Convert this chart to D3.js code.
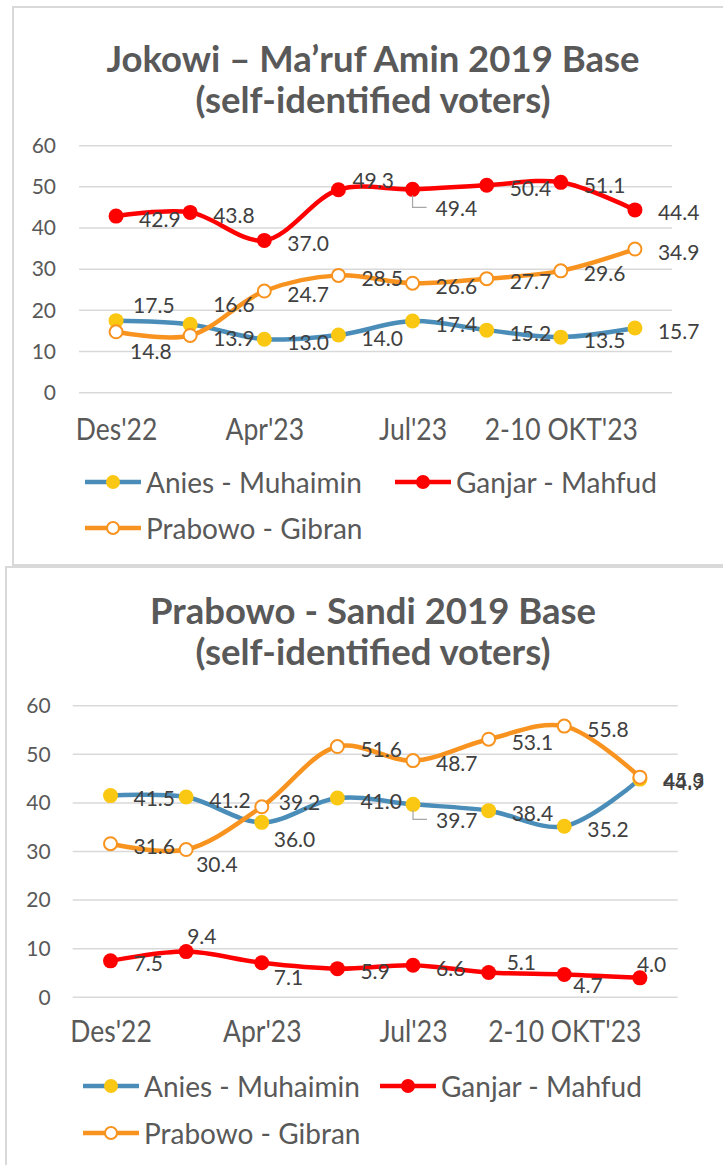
<!DOCTYPE html>
<html><head><meta charset="utf-8">
<script src="https://cdn.jsdelivr.net/npm/d3@7"></script>
<style>body{margin:0;background:#fff}svg{display:block}</style>
</head><body>
<svg id="c" width="723" height="1165"></svg>
<script>
// ---------- data ----------
const categories = ["Des'22","Feb'23","Apr'23","Jun'23","Jul'23","Agu'23","2-10 OKT'23","Nov'23"];
const shownTicks = ["Des'22","Apr'23","Jul'23","2-10 OKT'23"];
const yTicks = [0,10,20,30,40,50,60];
const seriesNames = ["Anies - Muhaimin","Ganjar - Mahfud","Prabowo - Gibran"];

const jokowiAnies    = [17.5,16.6,13.0,14.0,17.4,15.2,13.5,15.7];
const jokowiGanjar   = [42.9,43.8,37.0,49.3,49.4,50.4,51.1,44.4];
const jokowiPrabowo  = [14.8,13.9,24.7,28.5,26.6,27.7,29.6,34.9];

const prabowoAnies   = [41.5,41.2,36.0,41.0,39.7,38.4,35.2,44.9];
const prabowoGanjar  = [7.5,9.4,7.1,5.9,6.6,5.1,4.7,4.0];
const prabowoPrabowo = [31.6,30.4,39.2,51.6,48.7,53.1,55.8,45.3];

// ---------- styles ----------
const lineColors = ["#4a8db8","#ff0000","#f7931e"];
const markerFill = ["#fac712","#ff0000","#ffffff"];
const markerStroke = ["#fac712","#ff0000","#f7931e"];
const FONT = "'Century Gothic','Lato','Open Sans',sans-serif";

const svg = d3.select("#c");

function drawChart(cfg){
  const g = svg.append("g");
  g.append("rect").attr("x",cfg.card[0]).attr("y",cfg.card[1])
    .attr("width",cfg.card[2]).attr("height",cfg.card[3])
    .attr("fill","#fff").attr("stroke","#d9d9d9").attr("stroke-width",2);

  cfg.title.forEach((t,i)=>{
    g.append("text").attr("x",373).attr("y",cfg.titleY[i])
      .attr("text-anchor","middle").attr("font-family",FONT)
      .attr("font-weight","bold").attr("font-size",36.5).attr("fill","#595959")
      .text(t);
  });

  const x = d3.scalePoint().domain(categories).range(cfg.xr).padding(0.5);
  const y = d3.scaleLinear().domain([0,60]).range(cfg.yr);

  g.append("g").selectAll("line").data(yTicks).join("line")
    .attr("x1",cfg.xr[0]).attr("x2",cfg.xr[1])
    .attr("y1",d=>y(d)).attr("y2",d=>y(d))
    .attr("stroke","#d9d9d9").attr("stroke-width",1.5);

  const ya = d3.axisLeft(y).tickValues(yTicks).tickSize(0).tickPadding(cfg.yPad);
  const yg = g.append("g").attr("transform",`translate(${cfg.xr[0]},0)`).call(ya);
  yg.select(".domain").remove();
  yg.selectAll("text").attr("font-family",FONT).attr("font-size",21).attr("fill","#595959");

  const xa = d3.axisBottom(x).tickValues(shownTicks).tickSize(0).tickPadding(0);
  const xg = g.append("g").attr("transform",`translate(0,${cfg.xLabelY})`).call(xa);
  xg.select(".domain").remove();
  xg.selectAll("text").attr("font-family",FONT).attr("font-size",26.5).attr("fill","#595959")
    .attr("y",0).attr("dy",0).attr("transform","scale(1,1.15)");

  const line = d3.line().x((d,i)=>x(categories[i])).y(d=>y(d)).curve(d3.curveCatmullRom.alpha(0.5));

  cfg.series.forEach((vals,s)=>{
    g.append("path").attr("d",line(vals)).attr("fill","none")
      .attr("stroke",lineColors[s]).attr("stroke-width",4.5).attr("stroke-linejoin","round");
  });
  cfg.series.forEach((vals,s)=>{
    g.append("g").selectAll("circle").data(vals).join("circle")
      .attr("cx",(d,i)=>x(categories[i])).attr("cy",d=>y(d))
      .attr("r",s===2?6.5:7.5)
      .attr("fill",markerFill[s]).attr("stroke",markerStroke[s]).attr("stroke-width",s===2?2:0);
  });

  cfg.series.forEach((vals,s)=>{
    vals.forEach((v,i)=>{
      const key = s+"-"+i;
      const n = cfg.nudge[key] || [23,2];
      const px = x(categories[i]), py = y(v);
      if(n[2]){
        g.append("polyline").attr("points",`${px},${py+6} ${px},${py+n[1]} ${px+14},${py+n[1]}`)
          .attr("fill","none").attr("stroke","#a6a6a6").attr("stroke-width",1.2);
      }
      g.append("text").attr("x",px+n[0]).attr("y",py+n[1])
        .attr("dominant-baseline","central").attr("font-family",FONT)
        .attr("font-size",21).attr("fill","#404040").text(v.toFixed(1));
    });
  });

  cfg.legend.forEach((L,s)=>{
    const lx = L[0], ly = L[1];
    g.append("line").attr("x1",lx).attr("x2",lx+56).attr("y1",ly).attr("y2",ly)
      .attr("stroke",lineColors[s]).attr("stroke-width",4.5);
    g.append("circle").attr("cx",lx+28).attr("cy",ly).attr("r",s===2?6:7)
      .attr("fill",markerFill[s]).attr("stroke",markerStroke[s]).attr("stroke-width",s===2?2:0);
    g.append("text").attr("x",lx+61).attr("y",ly).attr("dominant-baseline","central")
      .attr("font-family",FONT).attr("font-size",28).attr("fill","#595959").text(seriesNames[s]);
  });
}

drawChart({
  card:[13,7,730,558],
  title:["Jokowi – Ma\u2019ruf Amin 2019 Base","(self-identified voters)"],
  titleY:[72,113],
  xr:[79,672], yr:[392.7,145.7], yPad:23, xLabelY:440,
  series:[jokowiAnies,jokowiGanjar,jokowiPrabowo],
  nudge:{"1-3":[14,-10],"1-4":[23,18,true],"2-0":[14,19],"0-0":[17,-16],"0-1":[23,-21]},
  legend:[[85,482],[395,482],[85,528]]
});
drawChart({
  card:[6,567,730,610],
  title:["Prabowo - Sandi 2019 Base","(self-identified voters)"],
  titleY:[624,665],
  xr:[72.7,677.7], yr:[997.3,705.7], yPad:22, xLabelY:1042,
  series:[prabowoAnies,prabowoGanjar,prabowoPrabowo],
  nudge:{"0-2":[12,16],"0-4":[23,15,true],"2-1":[10,14],"2-2":[17,-5],
         "1-1":[1,-16],"1-2":[12,14],"1-5":[18,-11],"1-6":[9,10],"1-7":[-3,-14]},
  legend:[[83,1086],[380,1086],[83,1133]]
});
</script>
</body></html>
